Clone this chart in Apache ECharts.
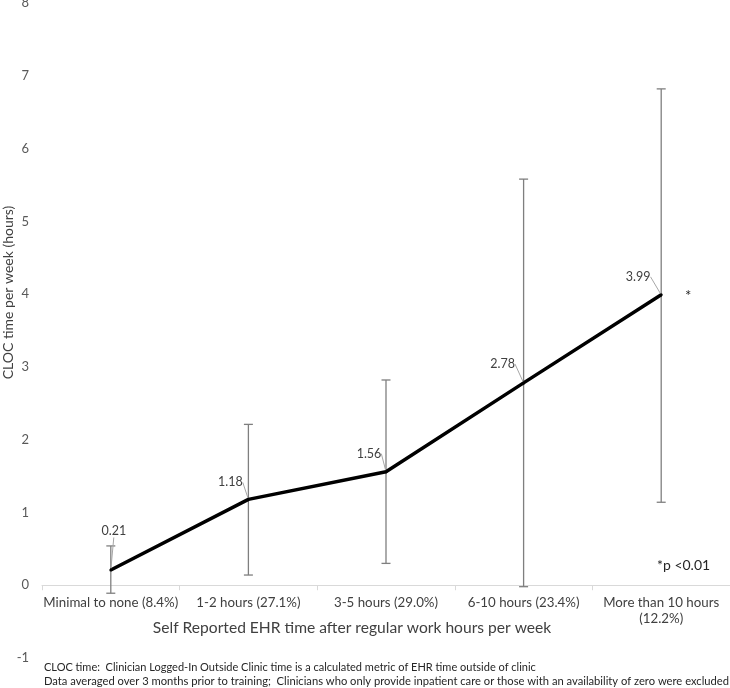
<!DOCTYPE html>
<html>
<head>
<meta charset="utf-8">
<script src="https://cdn.jsdelivr.net/npm/echarts@6/dist/echarts.min.js"></script>
<style>html,body{margin:0;padding:0;background:#fff;}#c{width:730px;height:688px;}</style>
</head>
<body>
<div id="c"></div>
<script>
// ---- data ----
var categories = ['Minimal to none (8.4%)', '1-2 hours (27.1%)', '3-5 hours (29.0%)', '6-10 hours (23.4%)', 'More than 10 hours\n(12.2%)'];
var means = [0.21, 1.18, 1.56, 2.78, 3.99];
var errLow = [-0.11, 0.14, 0.30, -0.02, 1.14];
var errHigh = [0.54, 2.21, 2.82, 5.58, 6.82];
var yTicks = [-1, 0, 1, 2, 3, 4, 5, 6, 7, 8];
var labelShift = [[3, -39], [-18, -17], [-17, -18], [-21, -19], [-23, -18]];

var FONT = 'Lato';
var GRID_TOP = 3, GRID_BOTTOM = 30, H = 688;
var yMin = yTicks[0], yMax = yTicks[yTicks.length - 1];
// distance from grid bottom to the zero line, so the category axis sits on y = 0
var zeroOffset = (H - GRID_TOP - GRID_BOTTOM) * (0 - yMin) / (yMax - yMin);

var chart = echarts.init(document.getElementById('c'), null, {renderer: 'canvas'});

var errData = categories.map(function (c, i) { return [i, errLow[i], errHigh[i]]; });

chart.setOption({
  animation: false,
  textStyle: {fontFamily: FONT},
  grid: {left: 42, right: 0, top: GRID_TOP, bottom: GRID_BOTTOM, containLabel: false, outerBoundsMode: 'none'},
  xAxis: {
    type: 'category',
    data: categories,
    boundaryGap: true,
    position: 'bottom',
    offset: -zeroOffset,
    axisLine: {onZero: false, lineStyle: {color: '#d9d9d9', width: 1}},
    axisTick: {show: true, length: 5, lineStyle: {color: '#d9d9d9'}},
    axisLabel: {color: '#404040', fontSize: 13.3, fontFamily: FONT, margin: 9, lineHeight: 16, interval: 0},
    name: 'Self Reported EHR time after regular work hours per week',
    nameLocation: 'middle',
    nameGap: 35,
    nameMoveOverlap: false,
    nameTextStyle: {color: '#404040', fontSize: 15.6, fontFamily: FONT, padding: [0, 68, 0, 0]}
  },
  yAxis: {
    type: 'value',
    min: yMin,
    max: yMax,
    interval: 1,
    axisLine: {show: false},
    axisTick: {show: false},
    splitLine: {show: false},
    axisLabel: {color: '#595959', fontSize: 13, fontFamily: FONT, margin: 13},
    name: 'CLOC time per week (hours)',
    nameLocation: 'middle',
    nameGap: 27,
    nameRotate: 90,
    nameMoveOverlap: false,
    nameTextStyle: {color: '#404040', fontSize: 14, fontFamily: FONT, padding: [0, 0, 0, 76]}
  },
  series: [
    {
      type: 'custom',
      name: 'error',
      data: errData,
      z: 1,
      renderItem: function (params, api) {
        var x = api.value(0);
        var lo = api.coord([x, api.value(1)]);
        var hi = api.coord([x, api.value(2)]);
        var hw = 4.5;
        var st = {stroke: '#7f7f7f', lineWidth: 1.3};
        return {
          type: 'group',
          children: [
            {type: 'line', shape: {x1: lo[0], y1: lo[1], x2: hi[0], y2: hi[1]}, style: st},
            {type: 'line', shape: {x1: lo[0] - hw, y1: lo[1], x2: lo[0] + hw, y2: lo[1]}, style: st},
            {type: 'line', shape: {x1: hi[0] - hw, y1: hi[1], x2: hi[0] + hw, y2: hi[1]}, style: st}
          ]
        };
      }
    },
    {
      type: 'line',
      name: 'mean',
      data: means,
      z: 3,
      symbol: 'circle',
      symbolSize: 3,
      itemStyle: {color: '#000'},
      lineStyle: {color: '#000', width: 3.5},
      label: {
        show: true,
        position: 'inside',
        color: '#404040',
        fontSize: 12.5,
        fontFamily: FONT,
        formatter: function (p) { return p.value.toFixed(2); }
      },
      labelLine: {show: true, lineStyle: {color: '#a6a6a6', width: 1}},
      labelLayout: function (p) {
        var s = labelShift[p.dataIndex];
        return {dx: s[0], dy: s[1]};
      }
    }
  ],
  graphic: [
    {type: 'text', left: 685, top: 289, style: {text: '*', fontSize: 15, fill: '#262626', fontFamily: FONT}},
    {type: 'text', left: 657, top: 558, style: {text: '*p <0.01', fontSize: 14, fill: '#262626', fontFamily: FONT}},
    {type: 'text', left: 44, top: 662, style: {text: 'CLOC time:  Clinician Logged-In Outside Clinic time is a calculated metric of EHR time outside of clinic', fontSize: 11, fill: '#262626', fontFamily: FONT}},
    {type: 'text', left: 44, top: 676, style: {text: 'Data averaged over 3 months prior to training;  Clinicians who only provide inpatient care or those with an availability of zero were excluded', fontSize: 11.2, fill: '#262626', fontFamily: FONT}}
  ]
});
</script>
</body>
</html>
